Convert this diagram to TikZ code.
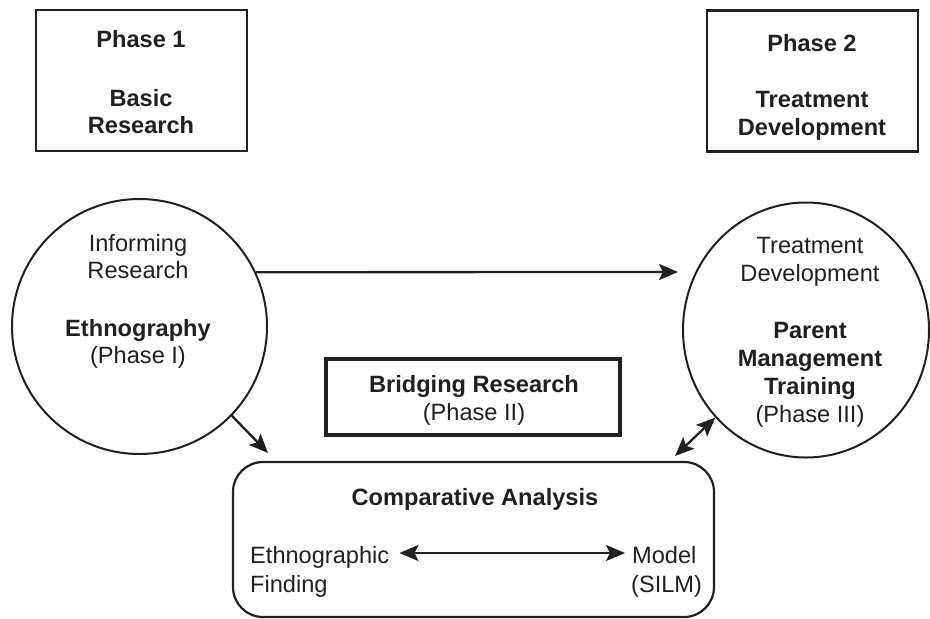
\documentclass[tikz,border=0pt]{standalone}
\usepackage{fontspec}
\setmainfont{Liberation Sans}
\usetikzlibrary{shapes.geometric,arrows.meta,calc}
\definecolor{ink}{RGB}{35,31,32}
\begin{document}
\begin{tikzpicture}[x=1pt,y=-1pt,
  every node/.style={text=ink,font=\fontsize{23.6}{27}\selectfont},
  txt/.style={anchor=base,inner sep=0pt},
  txtl/.style={anchor=base west,inner sep=0pt},
  phasebox/.style={draw=ink,line width=2.5pt,rectangle,minimum width=211pt,minimum height=141pt},
  bridgebox/.style={draw=ink,line width=3.2pt,rectangle,minimum width=294pt,minimum height=76pt},
  compbox/.style={draw=ink,line width=2.2pt,rectangle,rounded corners=30pt,minimum width=481pt,minimum height=155pt},
  stage/.style={draw=ink,line width=2pt,ellipse,inner sep=0pt},
  link/.style={draw=ink,line width=2.3pt,-{Stealth[length=19pt,width=16pt,inset=4pt]}},
  twoway/.style={draw=ink,line width=2.3pt,{Stealth[length=19pt,width=16pt,inset=4pt]}-{Stealth[length=19pt,width=16pt,inset=4pt]}}
]
\useasboundingbox (0,0) rectangle (930,619);

% phase headers
\node[phasebox] (ph1) at (141.5,80.5) {};
\node[txt,font=\fontsize{23.6}{27}\selectfont\bfseries] (ph1a) at (141,47) {Phase 1};
\node[txt,font=\fontsize{23.6}{27}\selectfont\bfseries] (ph1b) at (141,106) {Basic};
\node[txt,font=\fontsize{23.6}{27}\selectfont\bfseries] (ph1c) at (141,133) {Research};

\node[phasebox] (ph2) at (812.5,81) {};
\node[txt,font=\fontsize{23.6}{27}\selectfont\bfseries] (ph2a) at (812,51) {Phase 2};
\node[txt,font=\fontsize{23.6}{27}\selectfont\bfseries] (ph2b) at (812,107) {Treatment};
\node[txt,font=\fontsize{23.6}{27}\selectfont\bfseries] (ph2c) at (812,135) {Development};

% ethnography stage
\node[stage,minimum width=255pt,minimum height=255pt] (eth) at (139.5,326.5) {};
\node[txt] (etha) at (138,251) {Informing};
\node[txt] (ethb) at (138,278) {Research};
\node[txt,font=\fontsize{23.6}{27}\selectfont\bfseries] (ethc) at (138,336) {Ethnography};
\node[txt] (ethd) at (138,363) {(Phase I)};

% parent management training stage
\node[stage,minimum width=246pt,minimum height=255pt] (pmt) at (806,330) {};
\node[txt] (pmta) at (810,253) {Treatment};
\node[txt] (pmtb) at (810,281) {Development};
\node[txt,font=\fontsize{23.6}{27}\selectfont\bfseries] (pmtc) at (810,338) {Parent};
\node[txt,font=\fontsize{23.6}{27}\selectfont\bfseries] (pmtd) at (810,366) {Management};
\node[txt,font=\fontsize{23.6}{27}\selectfont\bfseries] (pmte) at (810,394) {Training};
\node[txt] (pmtf) at (810,422) {(Phase III)};

% bridging research
\node[bridgebox] (bridge) at (473,397) {};
\node[txt,font=\fontsize{23.6}{27}\selectfont\bfseries] (bra) at (474,392) {Bridging Research};
\node[txt] (brb) at (474,420) {(Phase II)};

% comparative analysis
\node[compbox] (comp) at (473.5,539.5) {};
\node[txt,font=\fontsize{23.6}{27}\selectfont\bfseries] (compt) at (475,505) {Comparative Analysis};
\node[txtl] (ethfind) at (250,563) {Ethnographic};
\node[txtl] (ethfind2) at (250,592) {Finding};
\node[txtl] (model) at (632,563) {Model};
\node[txtl] (model2) at (631,592) {(SILM)};

% connectors
\coordinate (hend) at (678,272);
\coordinate (dend) at (268,453);
\coordinate (rend) at (675,456);
\draw[link] (eth.25.3) -- (hend);
\draw[link] (eth.-44.4) -- (dend);
\draw[twoway] (rend) -- (pmt.224);
\draw[twoway] ($(ethfind.base east)+(10,-10)$) -- ($(model.base west)+(-7,-10)$);
\end{tikzpicture}
\end{document}
